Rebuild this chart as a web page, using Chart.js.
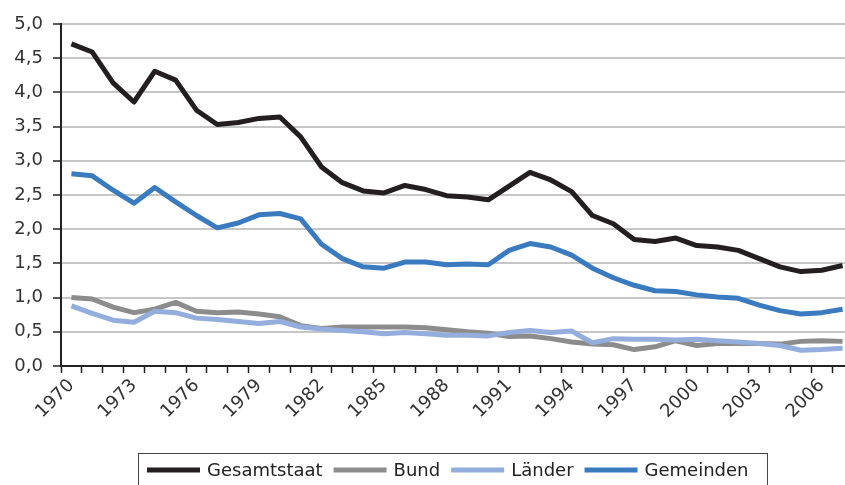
<!DOCTYPE html>
<html>
<head>
<meta charset="utf-8">
<script src="https://cdn.jsdelivr.net/npm/chart.js@4"></script>
<style>
  html, body { margin: 0; padding: 0; background: #fff; overflow: hidden; }
  #wrap { position: absolute; left: 0; top: 0; width: 870px; height: 500px; }
</style>
</head>
<body>
<div id="wrap"><canvas id="chart" width="870" height="500"></canvas></div>
<script>
// Jahre 1970-2007, Werte in Prozent
const years = [];
for (let y = 1970; y <= 2007; y++) years.push(String(y));

const gesamtstaat = [4.71, 4.59, 4.14, 3.86, 4.31, 4.18, 3.74, 3.53, 3.56, 3.62,
  3.64, 3.35, 2.91, 2.68, 2.56, 2.53, 2.64, 2.58, 2.49, 2.47,
  2.43, 2.63, 2.83, 2.72, 2.55, 2.20, 2.08, 1.85, 1.82, 1.87,
  1.76, 1.74, 1.69, 1.57, 1.45, 1.38, 1.40, 1.47];

const bund = [1.00, 0.98, 0.86, 0.78, 0.83, 0.93, 0.80, 0.78, 0.79, 0.76,
  0.72, 0.59, 0.55, 0.57, 0.57, 0.57, 0.57, 0.56, 0.53, 0.50,
  0.48, 0.43, 0.44, 0.40, 0.35, 0.32, 0.31, 0.24, 0.28, 0.37,
  0.30, 0.33, 0.33, 0.33, 0.32, 0.36, 0.37, 0.36];

const laender = [0.88, 0.77, 0.67, 0.64, 0.80, 0.78, 0.70, 0.68, 0.65, 0.62,
  0.65, 0.57, 0.54, 0.52, 0.50, 0.47, 0.49, 0.47, 0.45, 0.45,
  0.44, 0.49, 0.52, 0.49, 0.51, 0.34, 0.40, 0.39, 0.39, 0.38,
  0.39, 0.37, 0.35, 0.33, 0.30, 0.23, 0.24, 0.26];

const gemeinden = [2.81, 2.78, 2.57, 2.38, 2.61, 2.40, 2.20, 2.02, 2.09, 2.21,
  2.23, 2.15, 1.78, 1.57, 1.45, 1.43, 1.52, 1.52, 1.48, 1.49,
  1.48, 1.69, 1.79, 1.74, 1.62, 1.43, 1.29, 1.18, 1.10, 1.09,
  1.04, 1.01, 0.99, 0.89, 0.81, 0.76, 0.78, 0.83];

const COLORS = {
  gesamt: '#231f20',
  bund: '#8c8c8c',
  laender: '#93aedd',
  gemeinden: '#3a7bc0'
};

const FONT = { family: '"DejaVu Sans", sans-serif', size: 18 };

function line(label, data, color, order) {
  return {
    label, data, order,
    borderColor: color,
    backgroundColor: color,
    borderWidth: 5,
    borderJoinStyle: 'round',
    pointRadius: 0,
    tension: 0
  };
}

// Legende mit Rahmen, wie im Original unten mittig
const boxLegend = {
  id: 'boxLegend',
  afterDraw(chart) {
    const ctx = chart.ctx;
    ctx.save();
    ctx.strokeStyle = '#444';
    ctx.lineWidth = 1;
    ctx.strokeRect(138.5, 453.5, 629, 60);
    ctx.font = `${FONT.size}px ${FONT.family}`;
    ctx.textBaseline = 'middle';
    ctx.fillStyle = '#222';
    let x = 147;
    const cy = 470;
    const order = [0, 1, 2, 3];
    for (const i of order) {
      const ds = chart.data.datasets[i];
      ctx.strokeStyle = ds.borderColor;
      ctx.lineWidth = 5;
      ctx.beginPath();
      ctx.moveTo(x, cy);
      ctx.lineTo(x + 53, cy);
      ctx.stroke();
      x += 60;
      ctx.fillText(ds.label, x, cy + 1);
      x += ctx.measureText(ds.label).width + 11;
    }
    ctx.restore();
  }
};

new Chart(document.getElementById('chart'), {
  type: 'line',
  data: {
    labels: years,
    datasets: [
      line('Gesamtstaat', gesamtstaat, COLORS.gesamt, 1),
      line('Bund', bund, COLORS.bund, 4),
      line('Länder', laender, COLORS.laender, 3),
      line('Gemeinden', gemeinden, COLORS.gemeinden, 2)
    ]
  },
  options: {
    responsive: false,
    animation: false,
    devicePixelRatio: 1,
    layout: { padding: { left: 0, top: 24, right: 17, bottom: 0 } },
    plugins: {
      legend: { display: false },
      tooltip: { enabled: false }
    },
    scales: {
      x: {
        offset: true,
        grid: {
          offset: true,
          drawOnChartArea: false,
          drawTicks: true,
          tickLength: 7,
          tickColor: '#222',
          tickWidth: 1.5
        },
        border: { color: '#222', width: 2 },
        ticks: {
          autoSkip: false,
          minRotation: 45,
          maxRotation: 45,
          padding: 2,
          color: '#333',
          font: FONT,
          callback: (v, i) => (i % 3 === 0 ? years[i] : '')
        },
        afterFit: s => { s.height = 134; }
      },
      y: {
        min: 0,
        max: 5,
        ticks: {
          stepSize: 0.5,
          padding: 10,
          color: '#333',
          font: FONT,
          callback: v => v.toFixed(1).replace('.', ',')
        },
        grid: {
          color: '#c6c6c6',
          lineWidth: 2,
          tickLength: 8,
          tickColor: '#222',
          tickWidth: 1.5
        },
        border: { color: '#222', width: 2 },
        afterFit: s => { s.width = 61; }
      }
    }
  },
  plugins: [boxLegend]
});
</script>
</body>
</html>
